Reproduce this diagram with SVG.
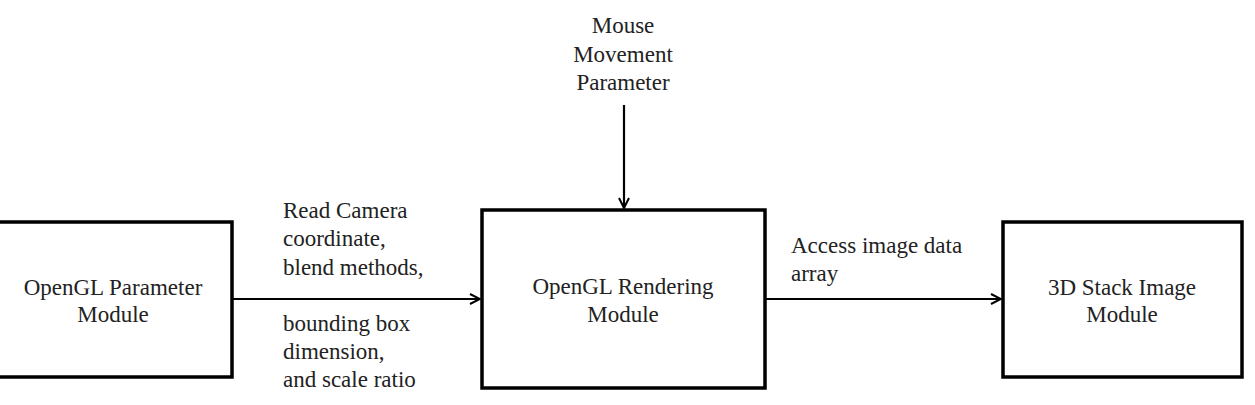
<svg xmlns="http://www.w3.org/2000/svg" width="1255" height="405" viewBox="0 0 1255 405">
<style>
.box{fill:#fff;stroke:#000;stroke-width:3.5}
.ln{stroke:#000;stroke-width:2.2;fill:none}
</style>
<defs>
<marker id="ah" viewBox="0 0 12 12" refX="11" refY="6" markerWidth="12" markerHeight="12" markerUnits="userSpaceOnUse" orient="auto">
<path d="M1,1 L11,6 L1,11" fill="none" stroke="#000" stroke-width="2"/>
</marker>
</defs>
<g id="node-param" font-family="Liberation Serif" font-size="23" fill="#222" text-anchor="middle">
<rect class="box" x="-5" y="222" width="237" height="155"/>
<text x="113" y="295">OpenGL Parameter</text>
<text x="113" y="322">Module</text>
</g>
<g id="node-render" font-family="Liberation Serif" font-size="23" fill="#222" text-anchor="middle">
<rect class="box" x="482" y="210" width="283" height="178"/>
<text x="623" y="294">OpenGL Rendering</text>
<text x="623" y="322">Module</text>
</g>
<g id="node-stack" font-family="Liberation Serif" font-size="23" fill="#222" text-anchor="middle">
<rect class="box" x="1003" y="222" width="239" height="155"/>
<text x="1122" y="295">3D Stack Image</text>
<text x="1122" y="322">Module</text>
</g>
<g id="connectors">
<line class="ln" x1="232" y1="299" x2="480" y2="299" marker-end="url(#ah)"/>
<line class="ln" x1="765" y1="299" x2="1001" y2="299" marker-end="url(#ah)"/>
<line class="ln" x1="624" y1="105" x2="624" y2="208" marker-end="url(#ah)"/>
</g>
<g id="labels" font-family="Liberation Serif" font-size="23" fill="#222">
<text x="623" y="33" text-anchor="middle">Mouse</text>
<text x="623" y="62" text-anchor="middle">Movement</text>
<text x="623" y="90" text-anchor="middle">Parameter</text>
<text x="283" y="218">Read Camera</text>
<text x="283" y="246">coordinate,</text>
<text x="283" y="275">blend methods,</text>
<text x="283" y="331">bounding box</text>
<text x="283" y="359">dimension,</text>
<text x="283" y="387">and scale ratio</text>
<text x="791" y="253">Access image data</text>
<text x="791" y="281">array</text>
</g>
</svg>
